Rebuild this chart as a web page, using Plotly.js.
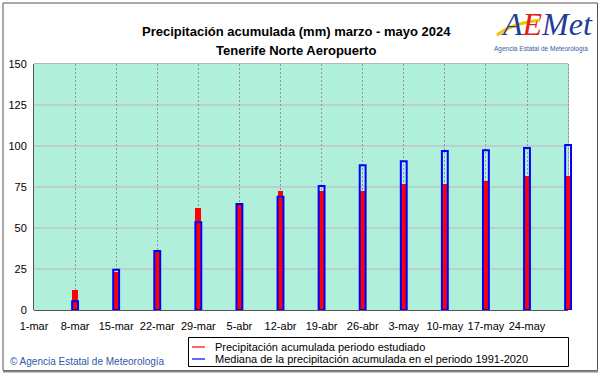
<!DOCTYPE html>
<html>
<head>
<meta charset="utf-8">
<script src="https://cdn.plot.ly/plotly-3.0.1.min.js"></script>
<style>html,body{margin:0;padding:0;background:#fff;}#chart{width:601px;height:374px;}</style>
</head>
<body>
<div id="chart"></div>
<script>
// ---- data ----
const barDates = ['2024-03-08','2024-03-15','2024-03-22','2024-03-29','2024-04-05','2024-04-12','2024-04-19','2024-04-26','2024-05-03','2024-05-10','2024-05-17','2024-05-24','2024-05-31'];
const observed = [12.4, 23.4, 36.4, 62.2, 65.0, 72.4, 72.6, 72.8, 77.0, 77.0, 78.9, 81.7, 81.7];
const median1991_2020 = [5.3, 24.6, 36.0, 53.5, 64.6, 69.1, 75.6, 88.2, 90.7, 97.0, 97.4, 98.8, 100.6];
const tickDates = ['2024-03-01','2024-03-08','2024-03-15','2024-03-22','2024-03-29','2024-04-05','2024-04-12','2024-04-19','2024-04-26','2024-05-03','2024-05-10','2024-05-17','2024-05-24','2024-05-31'];
const tickLabels = ['1-mar','8-mar','15-mar','22-mar','29-mar','5-abr','12-abr','19-abr','26-abr','3-may','10-may','17-may','24-may',''];
const yTicks = [0, 25, 50, 75, 100, 125, 150];
const seriesNames = ['Precipitación acumulada periodo estudiado', 'Mediana de la precipitación acumulada en el periodo 1991-2020'];
const titleLines = ['Precipitación acumulada (mm) marzo - mayo 2024', 'Tenerife Norte Aeropuerto'];

// ---- layout helpers (pixel -> paper) ----
const ML = 34, MR = 29, MT = 64, MB = 64, FW = 601, FH = 374;
const PW = FW - ML - MR, PH = FH - MT - MB;
const px = x => (x - ML) / PW;
const py = y => (FH - MB - y) / PH;
const FONT = 'Liberation Sans, Arial, sans-serif';
const DAY = 86400000;
const xStart = tickDates[0], xEnd = tickDates[tickDates.length - 1];

const traces = [
  {type:'bar', x: barDates, y: observed, name: seriesNames[0], width: DAY*1.0,
   marker:{color:'#ff0000', line:{width:0}}, showlegend:false, hoverinfo:'x+y'},
  {type:'bar', x: barDates, y: median1991_2020, name: seriesNames[1], width: DAY*1.0,
   marker:{color:'rgba(0,0,0,0)', line:{color:'#0000ff', width:2}}, showlegend:false, hoverinfo:'x+y'}
];

const shapes = [];
// plot background
shapes.push({type:'rect', xref:'x', yref:'y', x0:xStart, x1:xEnd, y0:0, y1:150, fillcolor:'#b0f0da', line:{width:0}, layer:'below'});
// horizontal gridlines
yTicks.forEach(v => { if (v > 0 && v < 150) shapes.push({type:'line', xref:'x', yref:'y', x0:xStart, x1:xEnd, y0:v, y1:v, line:{color:'#c6aec6', width:1}, layer:'below'}); });
// plot frame
const xr = px(568);
shapes.push({type:'rect', xref:'paper', yref:'paper', x0:0, x1:xr, y0:0, y1:1, line:{color:'#6a6a6a', width:1}, layer:'between'});
shapes.push({type:'line', xref:'paper', yref:'paper', x0:0, x1:0, y0:0, y1:1, line:{color:'#555555', width:2}, layer:'between'});
shapes.push({type:'line', xref:'paper', yref:'paper', x0:0, x1:xr, y0:0, y1:0, line:{color:'#555555', width:2}, layer:'between'});
// outer border
shapes.push({type:'rect', xref:'paper', yref:'paper', x0:px(3), x1:px(597.5), y0:py(3), y1:py(370.5), line:{color:'#555555', width:1}, layer:'above'});
shapes.push({type:'line', xref:'paper', yref:'paper', x0:px(3), x1:px(598), y0:py(371.5), y1:py(371.5), line:{color:'#8a8a8a', width:2}, layer:'above'});
// legend box and samples
shapes.push({type:'rect', xref:'paper', yref:'paper', x0:px(188.5), x1:px(568.5), y0:py(337.5), y1:py(366.5), line:{color:'#000000', width:1}, layer:'above'});
shapes.push({type:'line', xref:'paper', yref:'paper', x0:px(192), x1:px(205), y0:py(347), y1:py(347), line:{color:'#ff0000', width:1.2}, layer:'above'});
shapes.push({type:'line', xref:'paper', yref:'paper', x0:px(192), x1:px(205), y0:py(359), y1:py(359), line:{color:'#0000ff', width:1.2}, layer:'above'});
// logo swoosh
shapes.push({type:'path', xref:'paper', yref:'paper',
  path:`M ${px(497)},${py(35)} Q ${px(510)},${py(24)} ${px(540)},${py(20)}`,
  line:{color:'#f5c400', width:3}, layer:'above'});

const annotations = [
  {xref:'paper', yref:'paper', x:px(296), y:py(31), xanchor:'center', yanchor:'middle', showarrow:false,
   text:'<b>'+titleLines[0]+'</b>', font:{family:FONT, size:13, color:'#000'}},
  {xref:'paper', yref:'paper', x:px(296), y:py(50), xanchor:'center', yanchor:'middle', showarrow:false,
   text:'<b>'+titleLines[1]+'</b>', font:{family:FONT, size:13, color:'#000'}},
  {xref:'paper', yref:'paper', x:px(213), y:py(347), xanchor:'left', yanchor:'middle', showarrow:false,
   text:seriesNames[0], font:{family:FONT, size:11, color:'#000'}},
  {xref:'paper', yref:'paper', x:px(213), y:py(359), xanchor:'left', yanchor:'middle', showarrow:false,
   text:seriesNames[1], font:{family:FONT, size:11, color:'#000'}},
  {xref:'paper', yref:'paper', x:px(8), y:py(361), xanchor:'left', yanchor:'middle', showarrow:false,
   text:'© Agencia Estatal de Meteorología', font:{family:FONT, size:10, color:'#2f58a8'}},
  {xref:'paper', yref:'paper', x:px(547), y:py(24), xanchor:'center', yanchor:'middle', showarrow:false,
   text:'<i><span style="color:#1f3c99">A</span><span style="color:#e3221b">E</span><span style="color:#1f3c99">Met</span></i>',
   font:{family:'Liberation Serif, serif', size:32, color:'#1f3c99'}},
  {xref:'paper', yref:'paper', x:px(541), y:py(49), xanchor:'center', yanchor:'middle', showarrow:false,
   text:'Agencia Estatal de Meteorología', font:{family:FONT, size:6.5, color:'#3a5aa0'}}
];

const layout = {
  width: FW, height: FH,
  margin:{l:ML, r:MR, t:MT, b:MB, pad:0},
  paper_bgcolor:'#ffffff', plot_bgcolor:'#ffffff',
  barmode:'overlay', bargap:0,
  showlegend:false,
  font:{family:FONT, size:11, color:'#000'},
  xaxis:{type:'date', range:[xStart, '2024-05-31 16:00'], tickmode:'array', tickvals:tickDates, ticktext:tickLabels,
    showgrid:true, gridcolor:'#969696', griddash:'2px,2px', gridwidth:1,
    ticks:'outside', ticklen:6, tickcolor:'rgba(0,0,0,0)', showline:false, zeroline:false,
    tickfont:{family:FONT, size:11, color:'#000'}, fixedrange:true},
  yaxis:{range:[0,150], tickmode:'array', tickvals:yTicks, ticktext:yTicks.map(String),
    showgrid:false, zeroline:false, showline:false,
    ticks:'outside', ticklen:4, tickcolor:'rgba(0,0,0,0)',
    tickfont:{family:FONT, size:11, color:'#000'}, fixedrange:true},
  shapes: shapes,
  annotations: annotations
};

Plotly.newPlot('chart', traces, layout, {displayModeBar:false, staticPlot:true});
</script>
</body>
</html>
